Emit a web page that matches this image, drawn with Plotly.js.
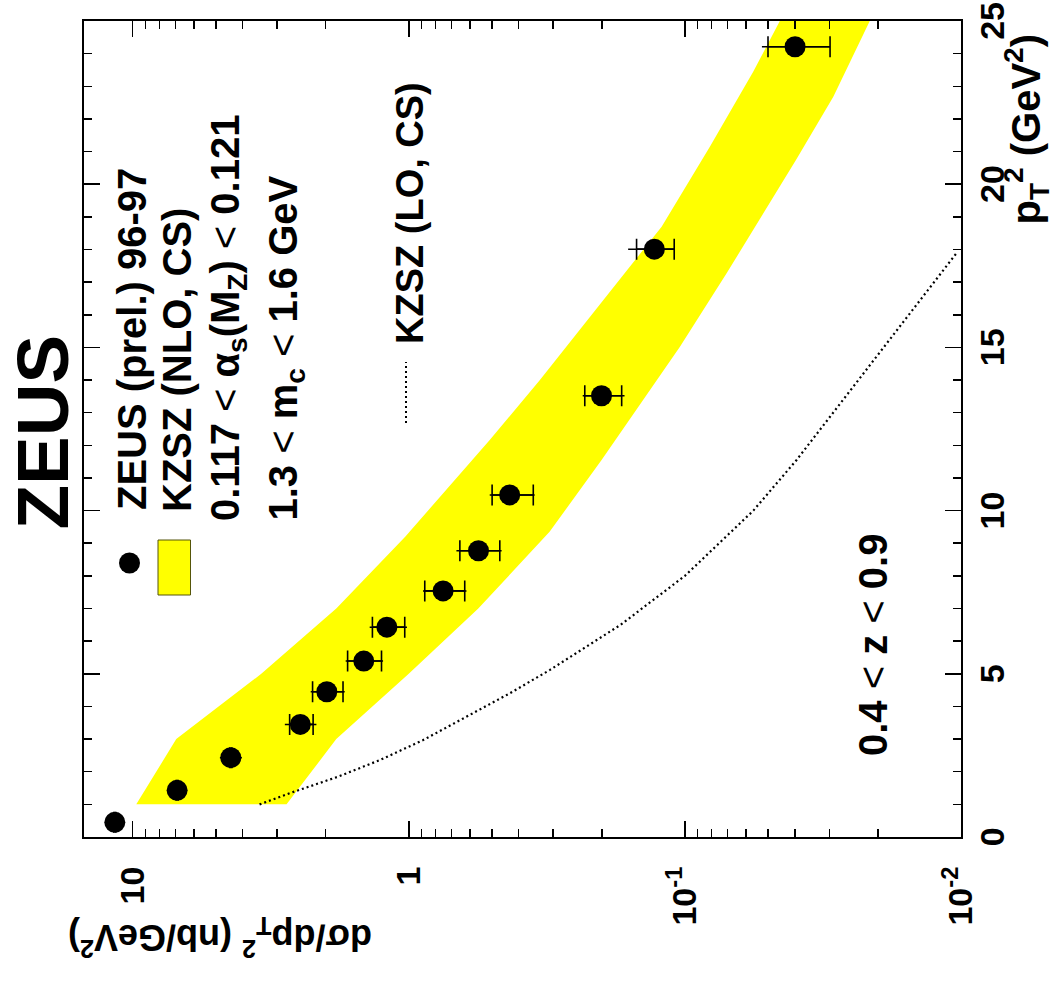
<!DOCTYPE html>
<html>
<head>
<meta charset="utf-8">
<script src="https://cdn.plot.ly/plotly-3.0.1.min.js"></script>
<style>
html,body{margin:0;padding:0;background:#fff;}
#chart{width:1058px;height:981px;}
</style>
</head>
<body>
<div id="chart"></div>
<script>
// ---- data ----
const pt2 = [0.45, 1.43, 2.43, 3.45, 4.45, 5.39, 6.43, 7.54, 8.77, 10.48, 13.52, 18.01, 24.21];
const sigma = [11.6, 6.90, 4.41, 2.47, 1.98, 1.455, 1.20, 0.751, 0.559, 0.431, 0.2004, 0.129, 0.0399];
const statUp = [0.1, 0.06, 0.04, 0.23, 0.25, 0.21, 0.154, 0.124, 0.094, 0.068, 0.030, 0.0206, 0.0101];
const statDn = [0.1, 0.06, 0.04, 0.25, 0.25, 0.20, 0.166, 0.124, 0.091, 0.077, 0.031, 0.0197, 0.0101];
const totUp = [0.8, 0.45, 0.42, 0.34, 0.285, 0.237, 0.185, 0.137, 0.113, 0.078, 0.034, 0.0315, 0.0127];
const totDn = [0.8, 0.45, 0.39, 0.31, 0.274, 0.216, 0.185, 0.133, 0.098, 0.081, 0.035, 0.0197, 0.0101];

// NLO band edges
const nloUpPt2 = [1, 3, 5, 7, 9.2, 12.16, 14.0, 18.7, 21.15, 23.45, 25];
const nloUpSig = [9.7, 6.95, 3.42, 1.83, 1.03, 0.509, 0.335, 0.1214, 0.0812, 0.0565, 0.0453];
const nloLoPt2 = [1, 3, 5, 7, 9.35, 11.55, 15.02, 17.27, 20.74, 22.68, 25];
const nloLoSig = [2.77, 1.83, 1.0, 0.56, 0.309, 0.2003, 0.1042, 0.0706, 0.0396, 0.0290, 0.0214];

// LO curve
const loPt2 = [1.0, 1.34, 1.85, 2.36, 2.97, 3.69, 4.40, 5.12, 6.5, 8.0, 10.0, 11.55, 14.71, 17.88];
const loSig = [3.47, 2.70, 1.80, 1.27, 0.887, 0.618, 0.431, 0.308, 0.171, 0.100, 0.0565, 0.0394, 0.0202, 0.0104];

// axis ticks
const sigTickVals = [0.01, 0.1, 1, 10];
const sigTickText = ['10<sup>-2</sup>', '10<sup>-1</sup>', '1', '10'];
const sigMinor = [0.02,0.03,0.04,0.05,0.06,0.07,0.08,0.09,0.2,0.3,0.4,0.5,0.6,0.7,0.8,0.9,2,3,4,5,6,7,8,9];
const ptTickVals = [0, 5, 10, 15, 20, 25];
const ptTickText = ['0', '5', '10', '15', '20', '25'];

// ---- geometry helpers (pixel -> paper) ----
const W = 1058, H = 981;
const L = 84, R = 961, T = 21, B = 837;
const fx = p => (p - L) / (R - L);
const fy = p => (B - p) / (B - T);

const FONT = 'Liberation Sans, Arial, Helvetica, sans-serif';

// band polygon
const bandX = nloUpSig.concat(nloLoSig.slice().reverse());
const bandY = nloUpPt2.concat(nloLoPt2.slice().reverse());

const traces = [
  {x: bandX, y: bandY, type: 'scatter', mode: 'lines', fill: 'toself',
   fillcolor: '#ffff00', line: {width: 0, color: '#ffff00'}, hoverinfo: 'skip'},
  {x: loSig, y: loPt2, type: 'scatter', mode: 'lines',
   line: {color: '#000', width: 2.2, dash: '2px,3px'}},
  {x: sigma, y: pt2, type: 'scatter', mode: 'markers',
   marker: {size: 1, color: 'rgba(0,0,0,0)'},
   error_x: {type: 'data', symmetric: false, array: totUp, arrayminus: totDn,
             width: 0, thickness: 1.5, color: '#000'}},
  {x: sigma, y: pt2, type: 'scatter', mode: 'markers',
   marker: {size: 21, color: '#000', symbol: 'circle'},
   error_x: {type: 'data', symmetric: false, array: statUp, arrayminus: statDn,
             width: 10.5, thickness: 1.6, color: '#000'}}
];

function ann(text, px, py, size, angle, xa, ya, extra) {
  return Object.assign({
    text: text, xref: 'paper', yref: 'paper', x: fx(px), y: fy(py),
    xanchor: xa, yanchor: ya, showarrow: false, textangle: angle,
    font: {family: FONT, size: size, color: '#000', weight: 'bold'}
  }, extra || {});
}
const LT = '<span style="font-weight:normal">&lt;</span>';

const annotations = [
  ann('ZEUS', 42.5, 432, 73, -90, 'center', 'middle', {height: 60, borderpad: 0}),
  ann('ZEUS (prel.) 96-97', 108, 512, 40, -90, 'left', 'bottom'),
  ann('KZSZ (NLO, CS)', 153, 514, 40, -90, 'left', 'bottom'),
  ann('0.117 ' + LT + ' α<sub>s</sub>(M<sub>Z</sub>) ' + LT + ' 0.121', 201, 523, 40, -90, 'left', 'bottom'),
  ann('1.3 ' + LT + ' m<sub>c</sub> ' + LT + ' 1.6 GeV', 258, 523, 40, -90, 'left', 'bottom'),
  ann('KZSZ (LO, CS)', 387, 346, 38, -90, 'left', 'bottom'),
  ann('0.4 ' + LT + ' z ' + LT + ' 0.9', 849, 758, 40, -90, 'left', 'bottom'),
  ann('p<sub>T</sub><sup>2</sup> (GeV<sup>2</sup>)', 1026, 227, 40, -90, 'center', 'bottom'),
  ann('dσ/dp<sub>T</sub><sup>2</sup> (nb/GeV<sup>2</sup>)', 220, 938, 36, 180, 'center', 'middle')
];

const shapes = [
  // legend marker
  {type: 'circle', xref: 'paper', yref: 'paper', xsizemode: 'pixel', ysizemode: 'pixel',
   xanchor: fx(129.5), yanchor: fy(563), x0: -10.5, x1: 10.5, y0: -10.5, y1: 10.5,
   fillcolor: '#000', line: {width: 0}},
  // legend band box
  {type: 'rect', xref: 'paper', yref: 'paper', x0: fx(158), x1: fx(190.5), y0: fy(595), y1: fy(540),
   fillcolor: '#ffff00', line: {color: '#55550a', width: 1}},
  // legend dotted line
  {type: 'line', xref: 'paper', yref: 'paper', x0: fx(406), x1: fx(406), y0: fy(423), y1: fy(362),
   line: {color: '#000', width: 2, dash: '2px,3px'}}
];

const axisFont = {family: FONT, size: 34, color: '#000', weight: 'bold'};

const layout = {
  width: W, height: H,
  margin: {l: L, r: W - R, t: T, b: H - B, pad: 0},
  paper_bgcolor: '#fff', plot_bgcolor: '#fff',
  showlegend: false,
  xaxis: {
    type: 'log', range: [Math.log10(15), -2], showgrid: false, zeroline: false,
    showline: true, linecolor: '#000', linewidth: 2, mirror: 'allticks',
    ticks: 'inside', ticklen: 16, tickwidth: 1.5, tickcolor: '#000',
    tickmode: 'array', tickvals: sigTickVals, ticktext: sigTickText,
    tickangle: -90, tickfont: axisFont, ticklabelstandoff: 14,
    minor: {tickmode: 'array', tickvals: sigMinor, ticks: 'inside', ticklen: 8, tickwidth: 1.5, tickcolor: '#000', showgrid: false}
  },
  yaxis: {
    range: [0, 25.0001], side: 'right', showgrid: false, zeroline: false,
    showline: true, linecolor: '#000', linewidth: 2, mirror: 'allticks',
    ticks: 'inside', ticklen: 16, tickwidth: 1.5, tickcolor: '#000',
    tickmode: 'array', tickvals: ptTickVals, ticktext: ptTickText,
    tickangle: -90, tickfont: axisFont, ticklabelstandoff: 0, ticklabelshift: 5,
    ticklabeloverflow: 'allow',
    minor: {tickmode: 'linear', tick0: 0, dtick: 1, ticks: 'inside', ticklen: 8, tickwidth: 1.5, tickcolor: '#000', showgrid: false}
  },
  annotations: annotations,
  shapes: shapes
};

Plotly.newPlot('chart', traces, layout, {displayModeBar: false, staticPlot: true});
</script>
</body>
</html>
